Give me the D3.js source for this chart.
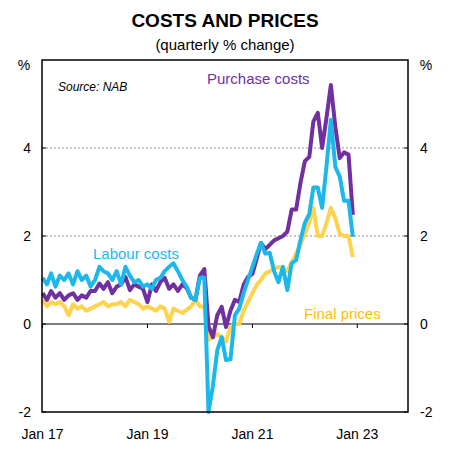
<!DOCTYPE html><html><head><meta charset="utf-8"><script src="https://cdn.jsdelivr.net/npm/d3@7"></script>
<style>body{margin:0;background:#fff}text{font-family:Arial,"Liberation Sans",sans-serif}</style></head><body><svg id="c" width="450" height="451"></svg><script>
const purchase=[0.7,0.55,0.75,0.6,0.7,0.55,0.65,0.7,0.55,0.65,0.6,0.75,
0.75,0.92,0.8,0.95,0.7,0.85,0.9,1.07,0.77,0.9,0.85,0.8,
0.5,0.9,0.75,0.95,1.05,0.8,0.9,0.75,0.9,0.82,0.6,0.55,
1.1,1.25,-0.05,-0.3,0.2,0.39,-0.07,0.3,0.55,0.5,0.9,1.07,
1.14,1.5,1.84,1.7,1.8,1.9,1.95,2.0,2.1,2.6,2.6,3.2,
3.7,3.8,4.6,4.8,4.0,4.7,5.43,4.48,3.77,3.9,3.85,2.48];
const labour=[1.05,0.9,1.15,0.85,1.1,1.0,1.15,0.9,1.2,1.0,1.1,0.85,
1.0,1.3,1.2,1.15,1.0,1.2,0.9,1.3,1.1,0.95,1.0,0.85,
0.9,0.8,1.0,1.05,1.2,1.3,1.38,1.2,1.0,0.85,0.6,0.55,
1.05,1.05,-2.0,-1.4,-0.6,-0.3,-0.82,-0.8,0.2,0.35,0.7,1.0,
1.3,1.6,1.84,1.6,1.62,1.2,0.95,1.3,0.77,1.38,1.45,1.9,
2.3,2.5,3.1,3.1,2.64,3.6,4.64,3.57,3.35,2.8,2.8,1.98];
const finalP=[0.55,0.4,0.5,0.45,0.5,0.4,0.2,0.45,0.35,0.4,0.3,0.35,
0.4,0.45,0.5,0.4,0.45,0.45,0.5,0.4,0.55,0.5,0.45,0.35,
0.4,0.35,0.3,0.4,0.35,0.05,0.35,0.3,0.25,0.32,0.4,0.55,
0.4,0.4,-0.36,-0.3,-0.23,-0.3,-0.4,-0.07,0.0,0.0,0.3,0.5,
0.7,0.9,1.0,1.15,1.2,1.25,1.3,1.25,1.2,1.4,1.6,1.8,
2.05,2.3,2.64,2.0,2.0,2.3,2.64,2.4,2.05,2.0,2.0,1.52];
const yTicks=[-2,0,2,4];
const xTickLabels=["Jan 17","Jan 19","Jan 21","Jan 23"];
const xTickDates=[new Date(2017,0,1),new Date(2019,0,1),new Date(2021,0,1),new Date(2023,0,1)];
const dates=d3.range(72).map(i=>new Date(2017,i,1));

const svg=d3.select("#c");
const L=42,R=408,T=60,B=412;
const x=d3.scaleTime().domain([new Date(2016,11,28),new Date(2023,11,20)]).range([L,R]);
const y=d3.scaleLinear().domain([-2,6]).range([B,T]);
svg.append("text").attr("x",225).attr("y",27).attr("text-anchor","middle").attr("font-size",19).attr("font-weight","bold").text("COSTS AND PRICES");
svg.append("text").attr("x",225).attr("y",50).attr("text-anchor","middle").attr("font-size",15).text("(quarterly % change)");
svg.append("text").attr("x",24).attr("y",70).attr("text-anchor","middle").attr("font-size",14).text("%");
svg.append("text").attr("x",426).attr("y",70).attr("text-anchor","middle").attr("font-size",14).text("%");
[2,4].forEach(v=>svg.append("line").attr("x1",L).attr("x2",R).attr("y1",y(v)).attr("y2",y(v)).attr("stroke","#777").attr("stroke-dasharray","2,2").attr("stroke-width",0.8));
svg.append("line").attr("x1",L).attr("x2",R).attr("y1",y(0)).attr("y2",y(0)).attr("stroke","#000").attr("stroke-width",1.2);
xTickDates.forEach(d=>svg.append("line").attr("x1",x(d)).attr("x2",x(d)).attr("y1",y(0)).attr("y2",y(0)+4).attr("stroke","#000"));
yTicks.forEach(v=>{
svg.append("text").attr("x",31).attr("y",y(v)+5).attr("text-anchor","end").attr("font-size",14).text(v);
svg.append("text").attr("x",420).attr("y",y(v)+5).attr("text-anchor","start").attr("font-size",14).text(v);
svg.append("line").attr("x1",L).attr("x2",L+4).attr("y1",y(v)).attr("y2",y(v)).attr("stroke","#000");
svg.append("line").attr("x1",R-4).attr("x2",R).attr("y1",y(v)).attr("y2",y(v)).attr("stroke","#000");});
xTickLabels.forEach((t,i)=>svg.append("text").attr("x",x(xTickDates[i])).attr("y",439).attr("text-anchor","middle").attr("font-size",14).text(t));
const line=d3.line().x((d,i)=>x(dates[i])).y(d=>y(d));
[[finalP,"#FFD34E"],[purchase,"#7030A0"],[labour,"#1CB8EC"]].forEach(([s,c])=>svg.append("path").datum(s).attr("d",line).attr("fill","none").attr("stroke",c).attr("stroke-width",4).attr("stroke-linejoin","round"));
svg.append("rect").attr("x",L).attr("y",T).attr("width",R-L).attr("height",B-T).attr("fill","none").attr("stroke","#000").attr("stroke-width",1.5);
svg.append("text").attr("x",58).attr("y",91).attr("font-size",12).attr("font-style","italic").text("Source: NAB");
svg.append("text").attr("x",207).attr("y",84).attr("font-size",15).attr("fill","#7030A0").text("Purchase costs");
svg.append("text").attr("x",93).attr("y",259).attr("font-size",15).attr("fill","#1CB8EC").text("Labour costs");
svg.append("text").attr("x",304).attr("y",319).attr("font-size",15).attr("fill","#FFC000").text("Final prices");
</script></body></html>
